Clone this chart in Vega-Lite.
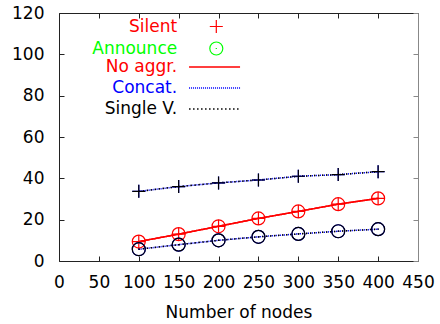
{
  "$schema": "https://vega.github.io/schema/vega-lite/v6.json",
  "width": 359,
  "height": 248,
  "autosize": "none",
  "padding": {"left": 59, "top": 13, "right": 22, "bottom": 63},
  "background": "white",
  "config": {
    "view": {"stroke": null},
    "font": "DejaVu Sans",
    "axis": {
      "labelFont": "DejaVu Sans",
      "labelFontSize": 17,
      "labelColor": "#000",
      "titleFont": "DejaVu Sans",
      "titleFontSize": 17,
      "titleFontWeight": "normal",
      "titleColor": "#000",
      "tickColor": "#222",
      "domainColor": "#222",
      "tickSize": -5,
      "grid": false,
      "labelFlush": false,
      "labelOverlap": false
    }
  },
  "data": {
    "values": [
      {"nodes": 100, "value": 9.4, "mode": "Silent", "method": "No aggr."},
      {"nodes": 150, "value": 13.0, "mode": "Silent", "method": "No aggr."},
      {"nodes": 200, "value": 16.8, "mode": "Silent", "method": "No aggr."},
      {"nodes": 250, "value": 20.6, "mode": "Silent", "method": "No aggr."},
      {"nodes": 300, "value": 24.0, "mode": "Silent", "method": "No aggr."},
      {"nodes": 350, "value": 27.5, "mode": "Silent", "method": "No aggr."},
      {"nodes": 400, "value": 30.3, "mode": "Silent", "method": "No aggr."},
      {"nodes": 100, "value": 9.4, "mode": "Announce", "method": "No aggr."},
      {"nodes": 150, "value": 13.0, "mode": "Announce", "method": "No aggr."},
      {"nodes": 200, "value": 16.8, "mode": "Announce", "method": "No aggr."},
      {"nodes": 250, "value": 20.6, "mode": "Announce", "method": "No aggr."},
      {"nodes": 300, "value": 24.0, "mode": "Announce", "method": "No aggr."},
      {"nodes": 350, "value": 27.5, "mode": "Announce", "method": "No aggr."},
      {"nodes": 400, "value": 30.3, "mode": "Announce", "method": "No aggr."},
      {"nodes": 100, "value": 33.7, "mode": "Silent", "method": "Concat."},
      {"nodes": 150, "value": 36.0, "mode": "Silent", "method": "Concat."},
      {"nodes": 200, "value": 37.8, "mode": "Silent", "method": "Concat."},
      {"nodes": 250, "value": 39.2, "mode": "Silent", "method": "Concat."},
      {"nodes": 300, "value": 41.0, "mode": "Silent", "method": "Concat."},
      {"nodes": 350, "value": 41.8, "mode": "Silent", "method": "Concat."},
      {"nodes": 400, "value": 43.2, "mode": "Silent", "method": "Concat."},
      {"nodes": 100, "value": 5.7, "mode": "Announce", "method": "Concat."},
      {"nodes": 150, "value": 7.9, "mode": "Announce", "method": "Concat."},
      {"nodes": 200, "value": 10.0, "mode": "Announce", "method": "Concat."},
      {"nodes": 250, "value": 11.7, "mode": "Announce", "method": "Concat."},
      {"nodes": 300, "value": 13.1, "mode": "Announce", "method": "Concat."},
      {"nodes": 350, "value": 14.4, "mode": "Announce", "method": "Concat."},
      {"nodes": 400, "value": 15.4, "mode": "Announce", "method": "Concat."},
      {"nodes": 100, "value": 33.7, "mode": "Silent", "method": "Single V."},
      {"nodes": 150, "value": 36.0, "mode": "Silent", "method": "Single V."},
      {"nodes": 200, "value": 37.8, "mode": "Silent", "method": "Single V."},
      {"nodes": 250, "value": 39.2, "mode": "Silent", "method": "Single V."},
      {"nodes": 300, "value": 41.0, "mode": "Silent", "method": "Single V."},
      {"nodes": 350, "value": 41.8, "mode": "Silent", "method": "Single V."},
      {"nodes": 400, "value": 43.2, "mode": "Silent", "method": "Single V."},
      {"nodes": 100, "value": 5.7, "mode": "Announce", "method": "Single V."},
      {"nodes": 150, "value": 7.9, "mode": "Announce", "method": "Single V."},
      {"nodes": 200, "value": 10.0, "mode": "Announce", "method": "Single V."},
      {"nodes": 250, "value": 11.7, "mode": "Announce", "method": "Single V."},
      {"nodes": 300, "value": 13.1, "mode": "Announce", "method": "Single V."},
      {"nodes": 350, "value": 14.4, "mode": "Announce", "method": "Single V."},
      {"nodes": 400, "value": 15.4, "mode": "Announce", "method": "Single V."}
    ]
  },
  "layer": [
    {
      "mark": {"type": "line", "strokeWidth": 1.5},
      "encoding": {
        "x": {
          "field": "nodes", "type": "quantitative",
          "scale": {"domain": [0, 450], "nice": false, "zero": false},
          "axis": {"orient": "bottom", "values": [0, 50, 100, 150, 200, 250, 300, 350, 400, 450], "title": "Number of nodes", "labelPadding": 18, "titlePadding": 14}
        },
        "y": {
          "field": "value", "type": "quantitative",
          "scale": {"domain": [0, 120], "nice": false, "zero": false},
          "axis": {"orient": "left", "values": [0, 20, 40, 60, 80, 100, 120], "title": null, "labelPadding": 20}
        },
        "detail": {"field": "mode"},
        "stroke": {
          "field": "method", "type": "nominal",
          "scale": {"domain": ["No aggr.", "Concat.", "Single V."], "range": ["#ff0000", "#0000ff", "#000000"]},
          "legend": {
            "orient": "none", "legendX": 0, "legendY": 44.5, "title": null, "padding": 0,
            "rowPadding": 3,
            "labelFont": "DejaVu Sans", "labelFontSize": 17,
            "labelAlign": "right", "labelOffset": -46.85, "symbolOffset": 146.05,
            "labelColor": {"expr": "datum.value === 'No aggr.' ? '#ff0000' : datum.value === 'Concat.' ? '#0000ff' : '#000000'"},
            "symbolType": "M-3,0L3,0", "symbolSize": 289, "symbolStrokeWidth": 1.5
          }
        },
        "strokeDash": {
          "field": "method", "type": "nominal",
          "scale": {"domain": ["No aggr.", "Concat.", "Single V."], "range": [[1, 0], [1, 1], [1.5, 2.5]]},
          "legend": {
            "orient": "none", "legendX": 0, "legendY": 44.5, "title": null, "padding": 0,
            "rowPadding": 3,
            "labelFont": "DejaVu Sans", "labelFontSize": 17,
            "labelAlign": "right", "labelOffset": -46.85, "symbolOffset": 146.05,
            "labelColor": {"expr": "datum.value === 'No aggr.' ? '#ff0000' : datum.value === 'Concat.' ? '#0000ff' : '#000000'"},
            "symbolType": "M-3,0L3,0", "symbolSize": 289, "symbolStrokeWidth": 1.5
          }
        }
      }
    },
    {
      "mark": {"type": "point", "filled": false, "size": 169, "strokeWidth": 1.2, "opacity": 1},
      "encoding": {
        "x": {"field": "nodes", "type": "quantitative", "axis": null},
        "y": {"field": "value", "type": "quantitative", "axis": null},
        "color": {
          "field": "method", "type": "nominal",
          "scale": {"domain": ["No aggr.", "Concat.", "Single V."], "range": ["#ff0000", "#0000ff", "#000000"]},
          "legend": null
        },
        "shape": {
          "field": "mode", "type": "nominal",
          "scale": {"domain": ["Silent", "Announce"], "range": ["M-1,0L1,0M0,-1L0,1", "M-1,0A1,1,0,1,1,1,0A1,1,0,1,1,-1,0ZM-0.1,0L0.1,0"]},
          "legend": {
            "orient": "none", "legendX": 0, "legendY": 5, "title": null, "padding": 0,
            "rowPadding": 3,
            "labelFont": "DejaVu Sans", "labelFontSize": 17,
            "labelAlign": "right", "labelOffset": -47.6, "symbolOffset": 148.8,
            "labelColor": {"expr": "datum.value === 'Silent' ? '#ff0000' : '#00ff00'"},
            "symbolStrokeColor": {"expr": "datum.value === 'Silent' ? '#ff0000' : '#00ff00'"},
            "symbolFillColor": "transparent",
            "symbolSize": 169, "symbolStrokeWidth": 1.2
          }
        }
      }
    },
    {
      "mark": {"type": "point", "opacity": 0},
      "encoding": {
        "x": {"field": "nodes", "type": "quantitative",
          "axis": {"orient": "top", "values": [0, 50, 100, 150, 200, 250, 300, 350, 400, 450], "labels": false, "title": null}},
        "y": {"field": "value", "type": "quantitative",
          "axis": {"orient": "right", "values": [0, 20, 40, 60, 80, 100, 120], "labels": false, "title": null, "domainColor": "#888", "tickColor": "#888"}}
      }
    }
  ],
  "resolve": {"axis": {"x": "independent", "y": "independent"}}
}
